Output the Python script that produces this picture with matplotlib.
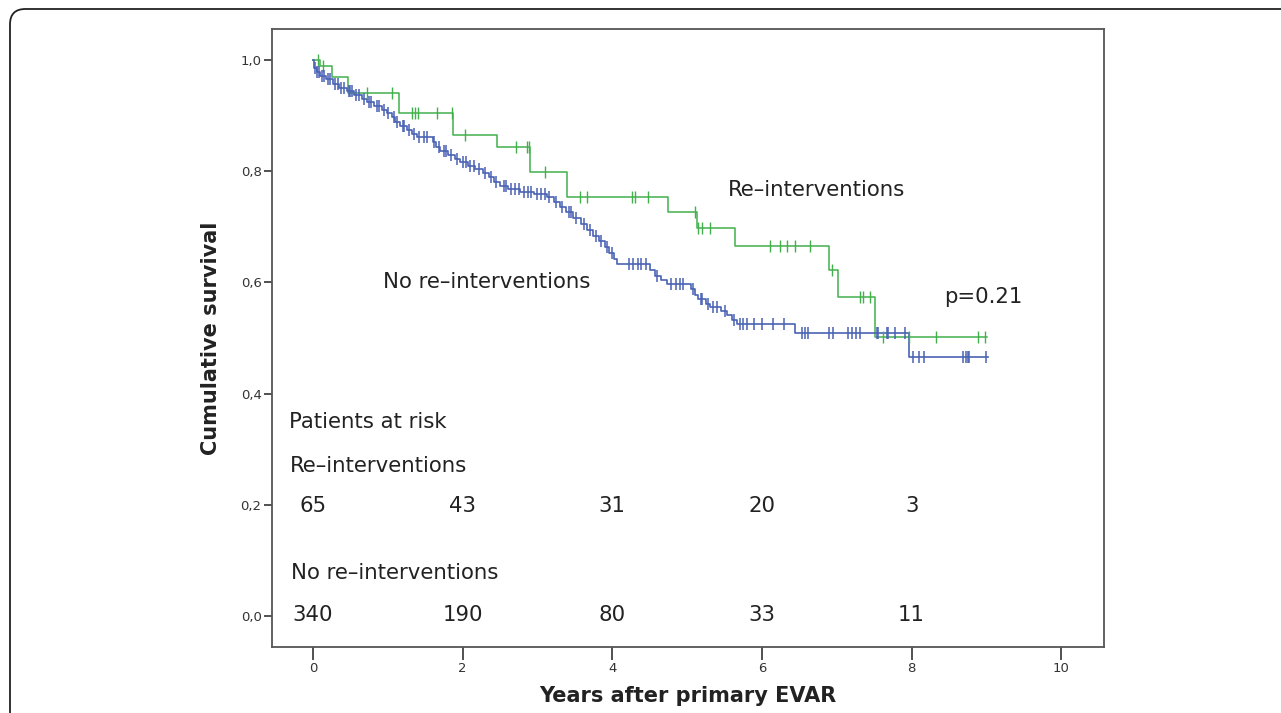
# Curva de supervivencia Kaplan-Meier: re-intervenciones vs. sin re-intervenciones
import matplotlib.pyplot as plt
import numpy as np
from matplotlib.patches import FancyBboxPatch

# Datos (tiempo en años, supervivencia acumulada)
re_time = [0.0, 0.10, 0.25, 0.47, 1.15, 1.87, 2.46, 2.90, 3.40, 4.75, 5.13, 5.64, 6.89, 7.01, 7.51, 9.01]
re_surv = [1.0, 0.989, 0.970, 0.940, 0.905, 0.865, 0.844, 0.799, 0.754, 0.726, 0.698, 0.665, 0.622, 0.574, 0.502, 0.502]
re_cens = [0.07, 0.14, 0.72, 1.06, 1.32, 1.36, 1.40, 1.66, 1.86, 2.03, 2.71, 2.86, 2.89, 3.10,
           3.57, 3.66, 4.26, 4.30, 4.48, 5.11, 5.15, 5.20, 5.30, 6.11, 6.24, 6.34, 6.44, 6.64,
           6.94, 7.31, 7.35, 7.45, 7.62, 7.97, 8.32, 8.89, 8.98]

no_time = [0.0, 0.02, 0.05, 0.10, 0.18, 0.27, 0.35, 0.45, 0.55, 0.65, 0.72, 0.82, 0.92, 0.99,
           1.05, 1.10, 1.16, 1.25, 1.32, 1.39, 1.60, 1.65, 1.70, 1.80, 1.90, 1.97, 2.07, 2.17,
           2.27, 2.35, 2.42, 2.50, 2.60, 2.77, 2.95, 3.13, 3.22, 3.30, 3.38, 3.48, 3.58, 3.66,
           3.74, 3.82, 3.90, 3.96, 4.02, 4.06, 4.51, 4.57, 4.65, 4.73, 5.05, 5.10, 5.15, 5.25,
           5.31, 5.45, 5.53, 5.60, 5.67, 6.44, 7.96, 9.02]
no_surv = [1.0, 0.985, 0.978, 0.972, 0.965, 0.957, 0.950, 0.944, 0.937, 0.930, 0.924, 0.918, 0.911, 0.905,
           0.897, 0.889, 0.882, 0.874, 0.867, 0.861, 0.853, 0.844, 0.836, 0.829, 0.822, 0.816, 0.810, 0.804,
           0.797, 0.789, 0.781, 0.773, 0.768, 0.763, 0.759, 0.754, 0.745, 0.735, 0.726, 0.716, 0.705, 0.694,
           0.684, 0.674, 0.664, 0.652, 0.642, 0.633, 0.622, 0.612, 0.605, 0.598, 0.588, 0.578, 0.570, 0.561,
           0.555, 0.548, 0.541, 0.533, 0.525, 0.509, 0.466, 0.466]
no_cens = [0.03, 0.06, 0.08, 0.12, 0.15, 0.20, 0.23, 0.30, 0.33, 0.38, 0.42, 0.48, 0.50, 0.52, 0.58,
           0.62, 0.68, 0.75, 0.78, 0.85, 0.88, 0.95, 1.00, 1.08, 1.12, 1.20, 1.22, 1.28, 1.35, 1.42,
           1.48, 1.52, 1.62, 1.68, 1.75, 1.78, 1.85, 1.93, 2.00, 2.05, 2.10, 2.15, 2.22, 2.30, 2.38,
           2.45, 2.55, 2.58, 2.65, 2.70, 2.75, 2.82, 2.88, 2.92, 3.00, 3.05, 3.10, 3.16, 3.25, 3.33,
           3.42, 3.45, 3.52, 3.62, 3.70, 3.78, 3.85, 3.93, 4.00, 4.22, 4.28, 4.35, 4.38, 4.45, 4.60,
           4.78, 4.85, 4.90, 4.95, 5.08, 5.18, 5.20, 5.28, 5.35, 5.40, 5.50, 5.62, 5.70, 5.75, 5.80,
           5.90, 6.00, 6.15, 6.30, 6.54, 6.58, 6.62, 6.89, 6.95, 7.15, 7.20, 7.25, 7.31, 7.54, 7.55,
           7.67, 7.69, 7.78, 7.91, 8.02, 8.10, 8.16, 8.69, 8.72, 8.75, 8.77, 9.00]

# Pacientes en riesgo
risk_years = [0, 2, 4, 6, 8]
risk_re = [65, 43, 31, 20, 3]
risk_no = [340, 190, 80, 33, 11]

green = '#42b04c'
blue = '#4a62b4'


def nivel(tiempos, valores, t):
    # valor de la curva escalonada en el tiempo t
    idx = np.searchsorted(tiempos, t, side='right') - 1
    return np.array(valores)[idx]


fig = plt.figure(figsize=(12.81, 7.13), dpi=100)
ax = fig.add_axes([0.2123, 0.0926, 0.6495, 0.8667])

# Marco redondeado de la figura
marco = FancyBboxPatch((10 / 1281, -0.2), 1.2, 1.2 - 9 / 713,
                       boxstyle='round,pad=0,rounding_size=0.012',
                       transform=fig.transFigure, fill=False, ec='#222222', lw=1.3,
                       mutation_aspect=1281 / 713)
fig.patches.append(marco)

# Curvas
ax.step(re_time, re_surv, where='post', color=green, lw=1.1)
ax.step(no_time, no_surv, where='post', color=blue, lw=1.2)
ax.plot(re_cens, nivel(re_time, re_surv, re_cens), ls='none', marker='|',
        ms=8, mew=1.0, color=green)
ax.plot(no_cens, nivel(no_time, no_surv, no_cens), ls='none', marker='|',
        ms=8, mew=1.1, color=blue)

# Textos
fuente = 'DejaVu Sans'
tam = 15.3
ax.text(5.55, 0.766, 'Re–interventions', fontsize=tam, color='#222222', va='center', family=fuente)
ax.text(0.94, 0.601, 'No re–interventions', fontsize=tam, color='#222222', va='center', family=fuente)
ax.text(8.44, 0.574, 'p=0.21', fontsize=tam, color='#222222', va='center', family=fuente)
ax.text(-0.32, 0.349, 'Patients at risk', fontsize=tam, color='#222222', va='center', family=fuente)
ax.text(-0.31, 0.270, 'Re–interventions', fontsize=tam, color='#222222', va='center', family=fuente)
ax.text(-0.29, 0.077, 'No re–interventions', fontsize=tam, color='#222222', va='center', family=fuente)
for x, n in zip(risk_years, risk_re):
    ax.text(x, 0.198, str(n), fontsize=tam, color='#222222', ha='center', va='center', family=fuente)
for x, n in zip(risk_years, risk_no):
    ax.text(x, 0.002, str(n), fontsize=tam, color='#222222', ha='center', va='center', family=fuente)

# Ejes
ax.set_xlim(-0.548, 10.57)
ax.set_ylim(-0.0558, 1.0558)
ax.set_xticks([0, 2, 4, 6, 8, 10])
ax.set_yticks([0.0, 0.2, 0.4, 0.6, 0.8, 1.0])
ax.set_yticklabels(['0,0', '0,2', '0,4', '0,6', '0,8', '1,0'])
ax.tick_params(axis='both', labelsize=9.5, colors='#333333', direction='out')
ax.tick_params(axis='y', length=6, width=1.2, pad=1.5)
ax.tick_params(axis='x', length=9, width=1.2, pad=2)
for s in ax.spines.values():
    s.set_color('#555555')
    s.set_linewidth(1.3)

ax.set_xlabel('Years after primary EVAR', fontsize=15, fontweight='bold', color='#222222', labelpad=8)
ax.set_ylabel('Cumulative survival', fontsize=15, fontweight='bold', color='#222222', labelpad=14)

plt.savefig('out.png', dpi=100)
